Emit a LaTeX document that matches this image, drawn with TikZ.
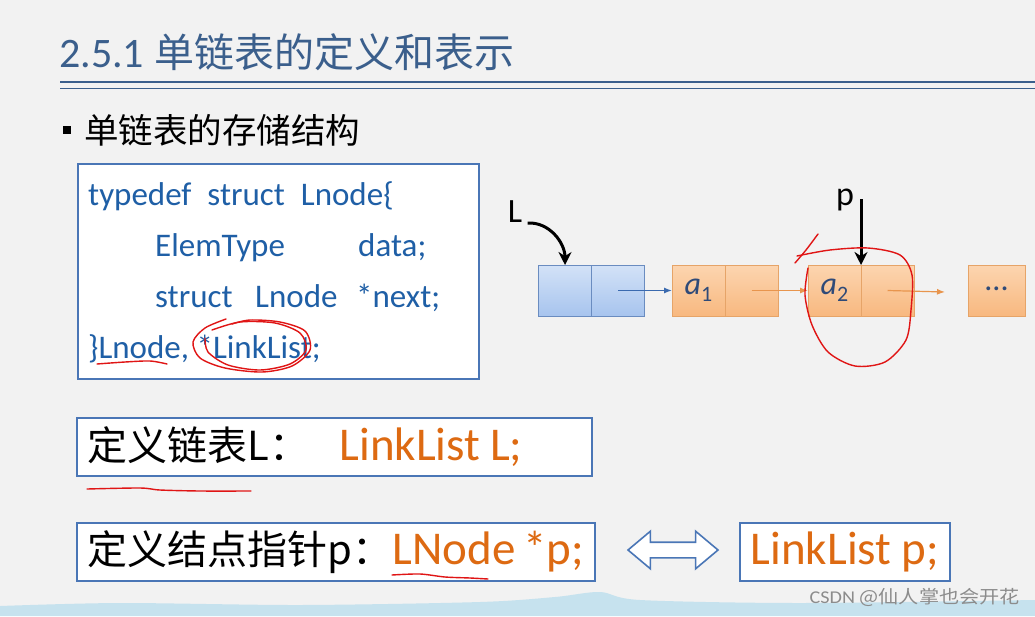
\documentclass[tikz,border=0pt]{standalone}
\usepackage{fontspec}
\setmainfont{Carlito}
\newfontfamily\zhfont{Noto Sans CJK SC}
\usetikzlibrary{arrows.meta, positioning, shapes.arrows}
\definecolor{slidebg}{HTML}{F2F2F2}
\definecolor{titleblue}{HTML}{3B5F8C}
\definecolor{boxblue}{HTML}{4A76B6}
\definecolor{codeblue}{HTML}{1F5FA6}
\definecolor{orangetxt}{HTML}{DD6A12}
\definecolor{headline}{HTML}{6A8CC0}
\definecolor{headtop}{HTML}{D3E2F7}
\definecolor{headbot}{HTML}{A7C4EE}
\definecolor{cellline}{HTML}{E6A468}
\definecolor{celltop}{HTML}{FCD5B0}
\definecolor{cellbot}{HTML}{F8B87F}
\definecolor{linkorange}{HTML}{E8954D}
\definecolor{linkblue}{HTML}{3A6AAF}
\definecolor{elemtxt}{HTML}{2F4A78}
\definecolor{redpen}{HTML}{E01515}
\definecolor{waveblue}{HTML}{C6E2EE}

\begin{document}
\begin{tikzpicture}[x=1pt, y=-1pt,
    codebox/.style={draw=boxblue, line width=1.6pt, fill=white, anchor=north west,
        minimum width=401pt, minimum height=215pt},
    codeline/.style={anchor=base west, inner sep=0pt, text=codeblue,
        font=\fontsize{33}{36}\selectfont},
    defbox/.style={draw=boxblue, line width=1.6pt, fill=white, anchor=north west,
        minimum height=58pt, inner xsep=11pt, inner ysep=0pt, align=left},
    headcell/.style={draw=headline, line width=1pt, top color=headtop, bottom color=headbot,
        minimum width=53pt, minimum height=51pt, inner sep=0pt, outer sep=0pt},
    elemcell/.style={draw=cellline, line width=1pt, top color=celltop, bottom color=cellbot,
        minimum width=53pt, minimum height=51pt, inner sep=0pt, outer sep=0pt,
        text=elemtxt},
    ptrarrow/.style={line width=3pt, -{Stealth[length=13pt, width=13pt]}},
    redmark/.style={redpen, line width=1.4pt, line cap=round, line join=round}]

    \useasboundingbox[fill=slidebg] (0,0) rectangle (1035,616);

    % bottom band
    \fill[waveblue] (0,616) -- plot[smooth] coordinates {(0,606) (120,603) (300,605)
        (480,602) (555,597) (600,592) (640,600) (800,603) (1035,600)} -- (1035,616) -- cycle;

    % title
    \node[anchor=west, inner sep=0pt, text=titleblue] (title) at (59,52)
        {\fontsize{42}{44}\selectfont 2.5.1\hspace{10pt}{\zhfont\fontsize{40}{42}\selectfont 单链表的定义和表示}};
    \draw[titleblue, line width=2.6pt] (60,82) -- (1035,82);
    \draw[titleblue, line width=1.2pt] (60,88.5) -- (1035,88.5);

    \fill (63,126) rectangle (71,134);
    \node[anchor=west, inner sep=0pt] (subtitle) at (84,130)
        {\zhfont\fontsize{34.5}{38}\selectfont 单链表的存储结构};

    % code box
    \node[codebox] (code) at (77,163) {};
    \node[codeline] (line1) at (88,205) {typedef\hspace{16pt}struct\hspace{16pt}Lnode\{};
    \node[codeline] (line2) at (155,256) {ElemType};
    \node[codeline] (line2b) at (358,256) {data;};
    \node[codeline] (line3) at (155,307) {struct};
    \node[codeline] (line3b) at (255,307) {Lnode};
    \node[codeline] (line3c) at (356,307) {*next;};
    \node[codeline] (line4) at (88,358) {\}Lnode, *LinkList;};

    % linked list
    \node[headcell] (h1) at (565,290.5) {};
    \node[headcell, right=0pt of h1] (h2) {};
    \node[elemcell] (a1d) at (698.5,290.5)
        {\fontsize{32}{32}\selectfont\itshape a\upshape\fontsize{22}{22}\selectfont\raisebox{-7pt}{1}};
    \node[elemcell, right=0pt of a1d] (a1n) {};
    \node[elemcell] (a2d) at (834.5,290.5)
        {\fontsize{32}{32}\selectfont\itshape a\upshape\fontsize{22}{22}\selectfont\raisebox{-7pt}{2}};
    \node[elemcell, right=0pt of a2d] (a2n) {};
    \node[elemcell, minimum width=57pt] (dots) at (996.5,290.5)
        {\fontsize{32}{32}\selectfont\raisebox{3pt}{...}};
    \coordinate (tailend) at (945,292);

    \draw[linkblue, line width=1.2pt, -{Latex[length=8pt, width=6pt]}] (h2.center) -- (a1d.west);
    \draw[linkorange, line width=1.2pt, -{Latex[length=8pt, width=6pt]}] (a1n.center) -- (a2d.west);
    \draw[linkorange, line width=1.2pt, -{Latex[length=8pt, width=6pt]}] (a2n.center) -- (tailend);

    \node[font=\fontsize{34}{36}\selectfont] (Llab) at (515,212) {L};
    \draw[ptrarrow] (Llab.east) ++(2,11) to[out=3, in=90] (h1.north);
    \node[font=\fontsize{34}{36}\selectfont] (plab) at (845,200) {p};
    \coordinate (ptop) at (861,199);
    \draw[ptrarrow] (ptop) -- (a2n.north west);

    % definitions
    \node[defbox, minimum width=515pt, text width=493pt] (defL) at (76,417)
        {\mbox{{\zhfont\fontsize{40}{42}\selectfont 定义链表L：}\hspace{30pt}{\color{orangetxt}\fontsize{47}{50}\selectfont LinkList\hspace{10pt}L;}}};
    \node[defbox, minimum width=518pt, text width=496pt] (defP) at (76,522)
        {\mbox{{\zhfont\fontsize{40}{42}\selectfont 定义结点指针p：}{\color{orangetxt}\fontsize{47}{50}\selectfont LNode\hspace{8pt}*p;}}};
    \node[double arrow, draw=boxblue, fill=white, line width=1.6pt, minimum height=90pt,
        inner xsep=0pt, inner ysep=7pt, double arrow head extend=11pt,
        double arrow tip angle=80] (equiv) at (673,550) {};
    \node[defbox, minimum width=209pt] (defP2) at (739,522)
        {\color{orangetxt}\fontsize{47}{50}\selectfont LinkList\hspace{10pt}p;};

    % watermark
    \node[text=black!45, anchor=east, inner sep=0pt] (mark) at (1020,597)
        {\scalebox{1.12}[1]{\fontsize{18}{20}\selectfont CSDN {\zhfont @仙人掌也会开花}}};

    % red pen marks
    \draw[redmark] plot[smooth] coordinates {(97,364) (125,362) (150,361) (167,364)};
    \draw[redmark] plot[smooth] coordinates {(226,319) (205,328) (193,342) (200,358) (225,368)
        (262,372) (292,366) (310,350) (305,331) (280,322) (250,320) (232,324)};
    \draw[redmark] plot[smooth] coordinates {(212,330) (240,322) (275,323) (300,333)
        (306,350) (290,364) (260,370) (228,365) (208,352) (205,338)};
    \draw[redmark] plot[smooth] coordinates {(818,234) (806,250) (795,263)};
    \draw[redmark] plot[smooth] coordinates {(797,256) (830,250) (868,248) (900,255) (912,275)
        (911,310) (906,340) (885,362) (855,366) (828,352) (812,325) (805,295) (808,268)};
    \draw[redmark] plot[smooth] coordinates {(87,489) (140,488) (160,490) (200,491) (251,491)};
    \draw[redmark] plot[smooth] coordinates {(392,575) (420,574) (445,577) (470,578) (488,579)};
\end{tikzpicture}
\end{document}
